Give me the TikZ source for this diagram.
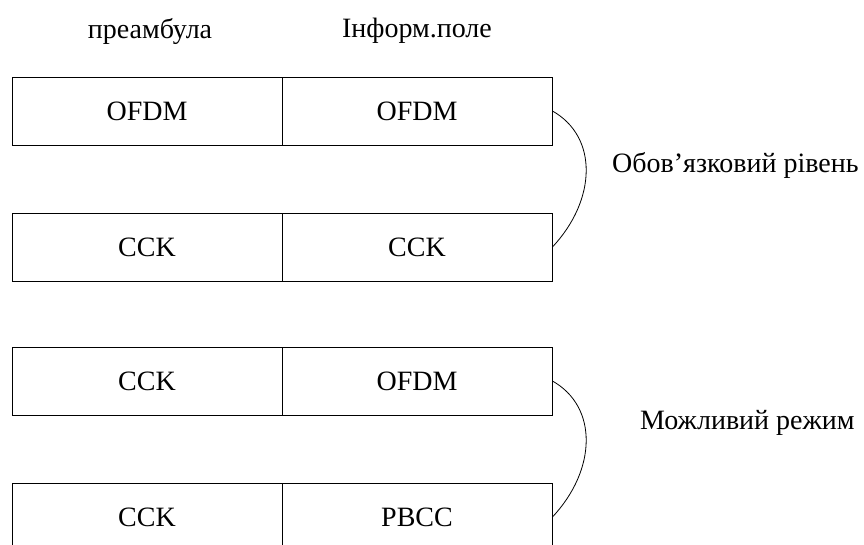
\documentclass[tikz,border=0pt]{standalone}
\usepackage{fontspec}
\setmainfont{Liberation Serif}
\newfontfamily\tnrfont{Liberation Serif}
\begin{document}
\begin{tikzpicture}[x=1pt,y=-1pt,
  cell/.style={draw,line width=0.9pt,minimum width=270pt,minimum height=68pt,inner sep=0pt,anchor=center,font=\tnrfont\fontsize{28}{32}\selectfont},
  lbl/.style={inner sep=0pt,font=\tnrfont\fontsize{28}{32}\selectfont},
  link/.style={line width=0.8pt}]
\clip (0,0) rectangle (864,544);
\useasboundingbox (0,0) rectangle (864,544);
\node[lbl,anchor=base] (h1) at (150,38) {преамбула};
\node[lbl,anchor=base] (h2) at (417,37) {Інформ.поле};
\node[cell] (a1) at (147,111) {OFDM};
\node[cell] (a2) at (417,111) {OFDM};
\node[cell] (b1) at (147,247) {CCK};
\node[cell] (b2) at (417,247) {CCK};
\node[cell] (c1) at (147,381) {CCK};
\node[cell] (c2) at (417,381) {OFDM};
\node[cell] (d1) at (147,517) {CCK};
\node[cell] (d2) at (417,517) {PBCC};
\draw[link] (a2.east) .. controls ([shift={(46,26)}]a2.east) and ([shift={(44,-47)}]b2.east) .. (b2.east);
\draw[link] (c2.east) .. controls ([shift={(46,26)}]c2.east) and ([shift={(44,-47)}]d2.east) .. (d2.east);
\node[lbl,anchor=base west] (m1) at (612,172) {Обов’язковий рівень};
\node[lbl,anchor=base west] (m2) at (640,429) {Можливий режим};
\end{tikzpicture}
\end{document}
